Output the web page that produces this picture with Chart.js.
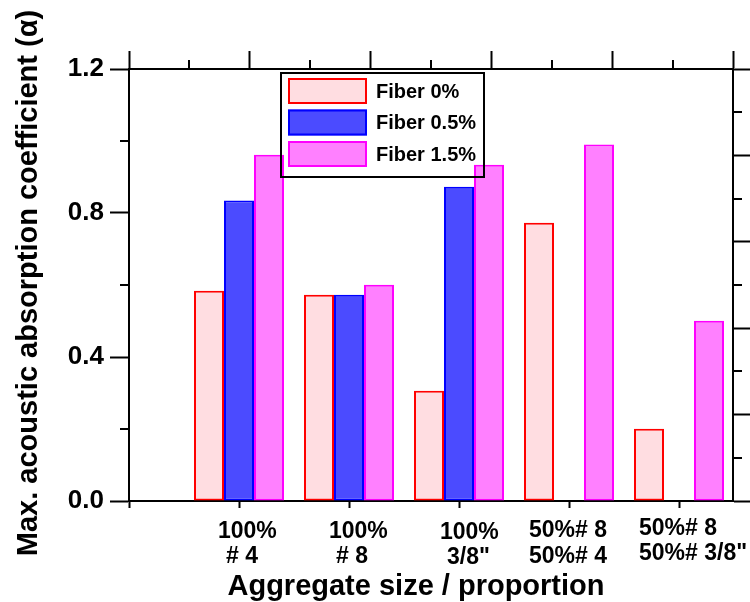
<!DOCTYPE html>
<html>
<head>
<meta charset="utf-8">
<script src="https://cdn.jsdelivr.net/npm/chart.js@4.4.0/dist/chart.umd.min.js"></script>
<style>
html,body{margin:0;padding:0;background:#fff;}
#wrap{width:750px;height:602px;}
</style>
</head>
<body>
<div id="wrap"><canvas id="c" width="750" height="602"></canvas></div>
<script>
// ---- data ----
const categories = [['100%', '# 4'], ['100%', '# 8'], ['100%', '3/8"'], ['50%# 8', '50%# 4'], ['50%# 8', '50%# 3/8"']];
const seriesNames = ['Fiber 0%', 'Fiber 0.5%', 'Fiber 1.5%'];
const fiber0  = [0.584, 0.573, 0.306, 0.773, 0.201];
const fiber05 = [0.835, 0.573, 0.873, null, null];
const fiber15 = [0.962, 0.601, 0.934, 0.990, 0.501];
const yTicks = [0, 0.4, 0.8, 1.2];
const yMinor = [0.2, 0.6, 1.0];
const xTicks = [0, 1, 2, 3, 4, 5];
const frameMajor = [0, 1, 2, 3, 4, 5];
const frameMinor = [0.5, 1.5, 2.5, 3.5, 4.5];
const xTitle = 'Aggregate size / proportion';
const yTitle = 'Max. acoustic absorption coefficient (\u03B1)';

// ---- style ----
const FONT = '"Liberation Sans", Arial, Helvetica, sans-serif';
const labelDx = [[-21, -13], [-20, -13], [-19, -12], [-40, -40], [-40, -40]];
const labelBase = [[37, 62], [37, 62], [38, 63], [36, 62], [34, 59]];

const toPts = arr => arr.map((v, i) => ({x: i + 1, y: v}));

const decor = {
  id: 'decor',
  afterDraw(chart) {
    const {ctx, chartArea: a, scales: s} = chart;
    ctx.save();
    ctx.strokeStyle = '#000';
    ctx.lineWidth = 2;
    const seg = (x1, y1, x2, y2) => { ctx.beginPath(); ctx.moveTo(x1, y1); ctx.lineTo(x2, y2); ctx.stroke(); };
    yMinor.forEach(v => { const y = Math.round(s.y.getPixelForValue(v)); seg(a.left - 9, y, a.left, y); });
    frameMinor.forEach(v => {
      const x = Math.round(s.x2.getPixelForValue(v)); seg(x, a.top - 9, x, a.top);
      const y = Math.round(s.y2.getPixelForValue(v)); seg(a.right, y, a.right + 9, y);
    });

    // legend (transparent, bordered)
    const lx = a.left + 152, ly = a.top + 4, lw = 203, lh = 104;
    ctx.strokeStyle = '#000';
    ctx.strokeRect(lx, ly, lw, lh);
    const rowTop = [5, 36.5, 68];
    ctx.font = 'bold 20px ' + FONT;
    ctx.textAlign = 'left';
    ctx.textBaseline = 'middle';
    chart.data.datasets.forEach((d, i) => {
      const sx = lx + 7, sy = ly + rowTop[i], sw = 79, sh = 26;
      ctx.fillStyle = d.backgroundColor;
      ctx.fillRect(sx, sy, sw, sh);
      ctx.strokeStyle = d.borderColor;
      ctx.strokeRect(sx + 1, sy + 1, sw - 2, sh - 2);
      ctx.fillStyle = '#000';
      ctx.fillText(d.label, lx + 95, sy + sh / 2 + 1);
    });

    // category labels
    ctx.fillStyle = '#000';
    ctx.font = 'bold 23px ' + FONT;
    ctx.textAlign = 'left';
    ctx.textBaseline = 'alphabetic';
    categories.forEach((lines, i) => {
      const x = s.x.getPixelForValue(i + 1);
      lines.forEach((t, j) => ctx.fillText(t, x + labelDx[i][j], a.bottom + labelBase[i][j]));
    });

    // axis titles
    ctx.font = 'bold 29px ' + FONT;
    ctx.textAlign = 'center';
    ctx.fillText(xTitle, a.left + 287, a.bottom + 94);
    ctx.translate(37, (a.top + a.bottom) / 2 - 2);
    ctx.rotate(-Math.PI / 2);
    ctx.fillText(yTitle, 0, 0);
    ctx.restore();
  }
};

const axisGrid = len => ({display: true, drawOnChartArea: false, drawTicks: true, tickLength: len, tickWidth: 2, tickColor: '#000', offset: false});
const axisBorder = {display: true, color: '#000', width: 2};
const barStyle = {borderWidth: 2, borderSkipped: false, inflateAmount: 0};

new Chart(document.getElementById('c'), {
  type: 'bar',
  data: {
    datasets: [
      {label: seriesNames[0], data: toPts(fiber0), backgroundColor: '#FFDDE1', borderColor: '#FF0000', ...barStyle},
      {label: seriesNames[1], data: toPts(fiber05), backgroundColor: '#4B4BFF', borderColor: '#0000FF', ...barStyle},
      {label: seriesNames[2], data: toPts(fiber15), backgroundColor: '#FF80FF', borderColor: '#FF00FF', ...barStyle}
    ]
  },
  options: {
    responsive: false,
    animation: false,
    devicePixelRatio: 1,
    layout: {padding: 0},
    datasets: {bar: {categoryPercentage: 90 / 110, barPercentage: 1}},
    plugins: {legend: {display: false}, tooltip: {enabled: false}},
    scales: {
      x: {
        type: 'linear', position: 'bottom', min: 0, max: 604 / 110, offset: false,
        ticks: {display: false, stepSize: 1, includeBounds: false},
        afterBuildTicks: sc => { sc.ticks = xTicks.map(v => ({value: v})); },
        grid: axisGrid(7), border: axisBorder,
        afterFit: sc => { sc.height = 101; }
      },
      y: {
        type: 'linear', position: 'left', min: 0, max: 1.2,
        ticks: {color: '#000', padding: 6, font: {family: FONT, size: 26, weight: 'bold'}, callback: v => Number(v).toFixed(1)},
        afterBuildTicks: sc => { sc.ticks = yTicks.map(v => ({value: v})); },
        grid: axisGrid(19), border: axisBorder,
        afterFit: sc => { sc.width = 129; }
      },
      x2: {
        type: 'linear', position: 'top', min: 0, max: 5, offset: false,
        ticks: {display: false},
        afterBuildTicks: sc => { sc.ticks = frameMajor.map(v => ({value: v})); },
        grid: axisGrid(18), border: axisBorder,
        afterFit: sc => { sc.height = 69; }
      },
      y2: {
        type: 'linear', position: 'right', min: 0, max: 5,
        ticks: {display: false},
        afterBuildTicks: sc => { sc.ticks = frameMajor.map(v => ({value: v})); },
        grid: axisGrid(17), border: axisBorder,
        afterFit: sc => { sc.width = 17; }
      }
    }
  },
  plugins: [decor]
});
</script>
</body>
</html>
